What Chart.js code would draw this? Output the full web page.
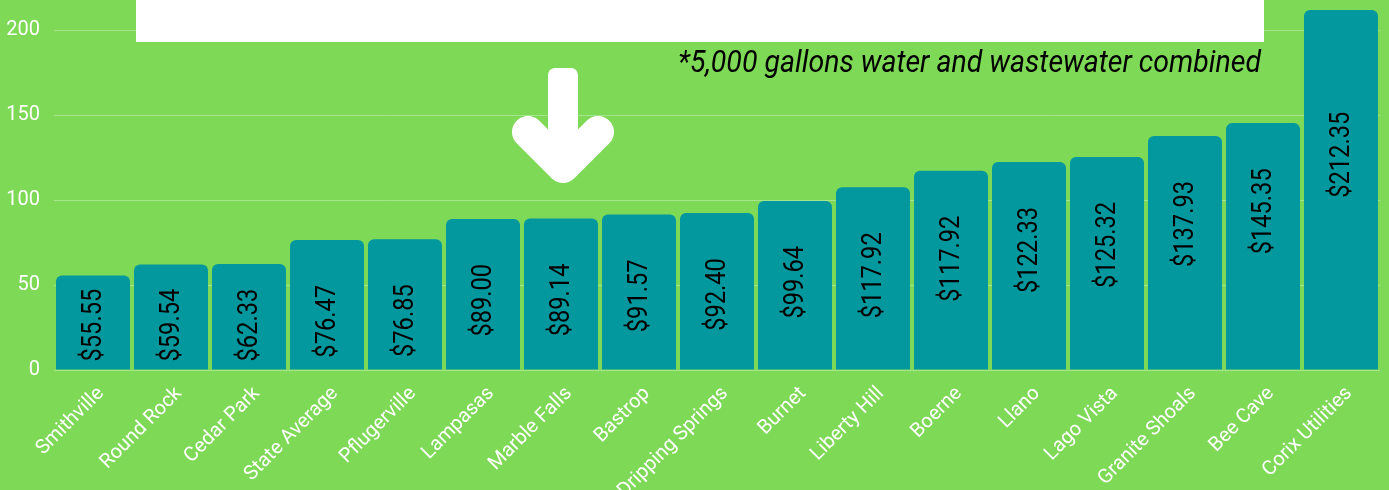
<!DOCTYPE html>
<html>
<head>
<meta charset="utf-8">
<script src="https://cdn.jsdelivr.net/npm/chart.js@4"></script>
<style>
  body { margin: 0; background: #7ed957; }
  #wrap { position: relative; width: 1389px; height: 490px; overflow: hidden; }
  #overlay { position: absolute; left: 0; top: 0; }
</style>
</head>
<body>
<div id="wrap">
  <canvas id="grafico" width="1389" height="490"></canvas>
  <svg id="overlay" width="1389" height="490">
    <rect x="136" y="0" width="1128" height="42" fill="#ffffff"></rect>
    <rect x="548" y="68" width="30" height="96" rx="7" fill="#ffffff"></rect>
    <polyline points="528,132 563,167 598,132" fill="none" stroke="#ffffff" stroke-width="32" stroke-linecap="round" stroke-linejoin="round"></polyline>
  </svg>
</div>
<script>
// datos
const categorias = ['Smithville', 'Round Rock', 'Cedar Park', 'State Average', 'Pflugerville', 'Lampasas',
    'Marble Falls', 'Bastrop', 'Dripping Springs', 'Burnet', 'Liberty Hill', 'Boerne', 'Llano',
    'Lago Vista', 'Granite Shoals', 'Bee Cave', 'Corix Utilities'];
const alturas = [55.6, 62.1, 62.5, 76.6, 77.0, 89.0, 89.2, 91.6, 92.4, 99.6, 107.6, 117.4, 122.5, 125.5, 137.8, 145.4, 212.0];
const etiquetas = ['$55.55', '$59.54', '$62.33', '$76.47', '$76.85', '$89.00', '$89.14', '$91.57', '$92.40',
    '$99.64', '$117.92', '$117.92', '$122.33', '$125.32', '$137.93', '$145.35', '$212.35'];
const ticksY = [0, 50, 100, 150, 200];
const nota = '*5,000 gallons water and wastewater combined';

// etiquetas verticales dentro de cada barra + nota en cursiva
const textosPlugin = {
    id: 'textos',
    afterDatasetsDraw(chart) {
        const ctx = chart.ctx;
        const meta = chart.getDatasetMeta(0);
        const estrechar = 0.845;
        ctx.save();
        ctx.fillStyle = '#000000';
        ctx.font = '28px Roboto';
        ctx.textAlign = 'center';
        ctx.textBaseline = 'middle';
        meta.data.forEach((bar, i) => {
            const largo = ctx.measureText(etiquetas[i]).width * estrechar;
            // cerca de la parte alta de la barra, sin bajar del pie
            let centro = Math.max(bar.y + 45 + largo / 2, (bar.y + bar.base) / 2 - 35);
            centro = Math.min(centro, bar.base - 8 - largo / 2);
            ctx.save();
            ctx.translate(bar.x + 1, centro);
            ctx.rotate(-Math.PI / 2);
            ctx.scale(estrechar, 1);
            ctx.fillText(etiquetas[i], 0, 0);
            ctx.restore();
        });
        ctx.restore();
    },
    afterDraw(chart) {
        const ctx = chart.ctx;
        ctx.save();
        ctx.fillStyle = '#000000';
        ctx.font = 'italic 31px Roboto';
        ctx.textAlign = 'right';
        ctx.textBaseline = 'alphabetic';
        const ancho = ctx.measureText(nota).width;
        ctx.translate(1261, 72);
        ctx.scale(583 / ancho, 1);
        ctx.fillText(nota, 0, 0);
        ctx.restore();
    }
};

const ctx = document.getElementById('grafico').getContext('2d');
const myChart = new Chart(ctx, {
    type: 'bar',
    data: {
        labels: categorias,
        datasets: [{
            label: 'Costo',
            data: alturas,
            backgroundColor: '#03989e',
            borderRadius: { topLeft: 6, topRight: 6, bottomLeft: 0, bottomRight: 0 },
            borderSkipped: false,
            barPercentage: 0.949,
            categoryPercentage: 1.0,
            clip: false
        }]
    },
    options: {
        responsive: false,
        animation: false,
        layout: { padding: { top: 0, right: 9, left: 0, bottom: 0 } },
        plugins: {
            legend: { display: false },
            tooltip: { enabled: false }
        },
        scales: {
            x: {
                grid: { display: false },
                border: { display: false },
                ticks: {
                    color: '#ffffff',
                    font: { family: 'Roboto', size: 20 },
                    maxRotation: 45,
                    minRotation: 45,
                    autoSkip: false,
                    padding: 4,
                    labelOffset: 8
                },
                afterFit(scale) { scale.height = 120; }
            },
            y: {
                min: 0,
                max: 202.6,
                grid: { color: 'rgba(255,255,255,0.32)', drawTicks: false },
                border: { display: false },
                ticks: {
                    color: '#ffffff',
                    font: { family: 'Roboto', size: 20 },
                    padding: 14
                },
                afterBuildTicks(scale) { scale.ticks = ticksY.map(v => ({ value: v })); },
                afterFit(scale) { scale.width = 54; }
            }
        }
    },
    plugins: [textosPlugin]
});
</script>
</body>
</html>
